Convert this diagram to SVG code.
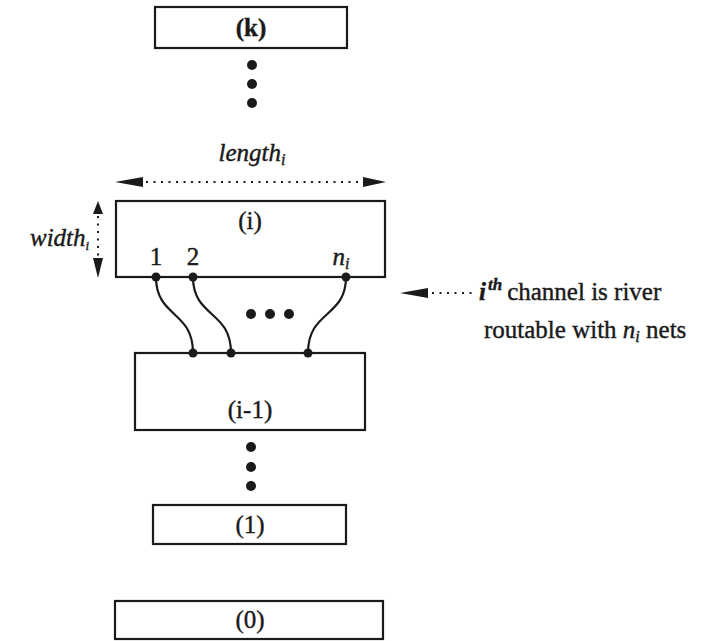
<svg xmlns="http://www.w3.org/2000/svg" width="704" height="641" viewBox="0 0 704 641">
<style>
.box{fill:#fff;stroke:#1a1a1a;stroke-width:2.2}
.t{font-family:'Liberation Serif','DejaVu Serif','Times New Roman',serif;font-size:25px;fill:#1a1a1a;stroke:#1a1a1a;stroke-width:0.4}
.it{font-style:italic}
.dot{fill:#1a1a1a}
.dotted{stroke:#1a1a1a;stroke-width:2;stroke-dasharray:2 5.5;fill:none}
.wire{stroke:#1a1a1a;stroke-width:2.2;fill:none}
.ah{fill:#1a1a1a}
</style>
<rect width="704" height="641" fill="#fff"/>
<g id="connectors">
<path class="wire" d="M156,277 C156,318 193,310 193,353"/>
<path class="wire" d="M193,277 C193,318 231,310 231,353"/>
<path class="wire" d="M346,277 C346,318 308,310 308,353"/>
</g>
<g id="node-k">
<rect class="box" x="155" y="7" width="192" height="41"/>
<text class="t" x="251" y="36" text-anchor="middle" font-weight="bold">(k)</text>
</g>
<g id="dots-top">
<circle class="dot" cx="252" cy="65" r="5"/>
<circle class="dot" cx="252" cy="84" r="5"/>
<circle class="dot" cx="252" cy="103" r="5"/>
</g>
<g id="length-dim">
<text class="t it" x="252" y="161" text-anchor="middle" font-size="26">length<tspan font-size="16" dy="4">i</tspan></text>
<line class="dotted" x1="146" y1="182" x2="362" y2="182"/>
<polygon class="ah" points="115,182 143,177 143,187"/>
<polygon class="ah" points="386,182 363,177 363,187"/>
</g>
<g id="node-i">
<rect class="box" x="116" y="201" width="269" height="76"/>
<text class="t" x="250" y="229" text-anchor="middle">(i)</text>
<text class="t" x="156" y="265" text-anchor="middle">1</text>
<text class="t" x="193" y="265" text-anchor="middle">2</text>
<text class="t it" x="341" y="265" text-anchor="middle">n<tspan font-size="16" dy="4">i</tspan></text>
<circle class="dot" cx="156" cy="277" r="4.5"/>
<circle class="dot" cx="193" cy="277" r="4.5"/>
<circle class="dot" cx="346" cy="277" r="4.5"/>
</g>
<g id="width-dim">
<text class="t it" x="30" y="246" font-size="19">width<tspan font-size="13" dy="4">i</tspan></text>
<line class="dotted" x1="98" y1="216" x2="98" y2="256"/>
<polygon class="ah" points="98,201 93,214 103,214"/>
<polygon class="ah" points="98,278 93,258 103,258"/>
</g>
<g id="ellipsis">
<circle class="dot" cx="251" cy="314" r="5"/>
<circle class="dot" cx="270" cy="314" r="5"/>
<circle class="dot" cx="289" cy="314" r="5"/>
</g>
<g id="node-i-1">
<rect class="box" x="135" y="353" width="230" height="77"/>
<text class="t" x="250" y="418" text-anchor="middle">(i-1)</text>
<circle class="dot" cx="193" cy="353" r="4.5"/>
<circle class="dot" cx="231" cy="353" r="4.5"/>
<circle class="dot" cx="308" cy="353" r="4.5"/>
</g>
<g id="dots-bottom">
<circle class="dot" cx="251" cy="447" r="5"/>
<circle class="dot" cx="251" cy="467" r="5"/>
<circle class="dot" cx="251" cy="486" r="5"/>
</g>
<g id="node-1">
<rect class="box" x="153" y="505" width="193" height="39"/>
<text class="t" x="250" y="533" text-anchor="middle">(1)</text>
</g>
<g id="node-0">
<rect class="box" x="115" y="601" width="268" height="38"/>
<text class="t" x="250" y="628" text-anchor="middle">(0)</text>
</g>
<g id="annotation">
<polygon class="ah" points="400,293 428,288 428,298"/>
<line class="dotted" x1="432" y1="293" x2="475" y2="293"/>
<text class="t" x="479" y="300" font-size="26"><tspan class="it" font-weight="bold">i</tspan><tspan class="it" font-weight="bold" font-size="17" dy="-10" dx="2">th</tspan><tspan dy="10" dx="5">channel is river</tspan></text>
<text class="t" x="484" y="338" font-size="26">routable with <tspan class="it">n</tspan><tspan class="it" font-size="16" dy="4">i</tspan><tspan dy="-4"> nets</tspan></text>
</g>
</svg>
